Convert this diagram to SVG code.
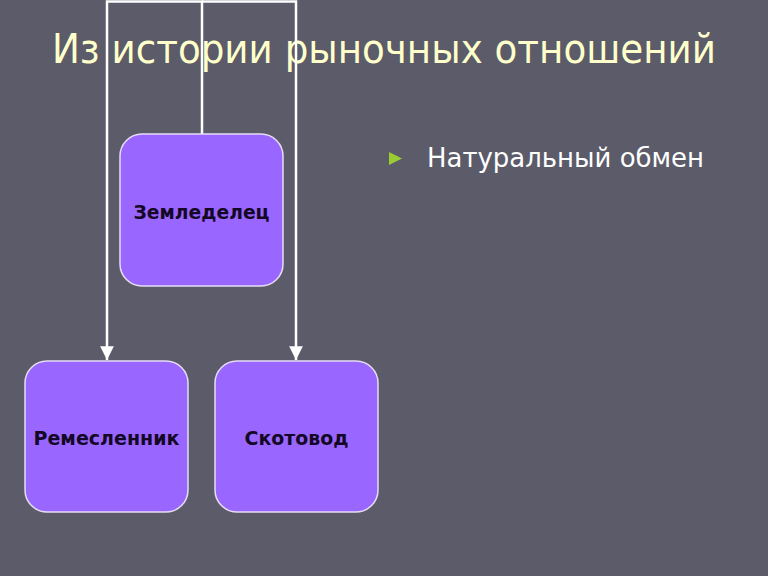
<svg xmlns="http://www.w3.org/2000/svg" width="768" height="576" viewBox="0 0 768 576">
<defs>
<style>
.node rect{fill:#9966FF;stroke:#E6DDF5;stroke-width:1.5}
.node text{font-family:"DejaVu Sans","Liberation Sans",sans-serif;font-weight:bold;font-size:20px;fill:#140826;text-anchor:middle}
.conn{fill:none;stroke:#FFFFFF;stroke-width:2.5}
</style>
<marker id="arr" viewBox="0 0 10 10" refX="10" refY="5" markerWidth="5.5" markerHeight="5.5" orient="auto" markerUnits="strokeWidth">
<path d="M0,0 L10,5 L0,10 z" fill="#FFFFFF"/>
</marker>
</defs>
<rect width="768" height="576" fill="#5B5B69"/>
<text x="52" y="63" font-family="DejaVu Sans,'Liberation Sans',sans-serif" font-size="40" fill="#FFFFCC" textLength="664" lengthAdjust="spacingAndGlyphs">Из истории рыночных отношений</text>
<g id="connectors">
<path class="conn" d="M202,134 V1.5 H107 V360" marker-end="url(#arr)"/>
<path class="conn" d="M202,1.5 H296 V360" marker-end="url(#arr)"/>
</g>
<g id="zemledelets" class="node">
<rect x="120" y="134" width="163" height="152" rx="22"/>
<text x="201.5" y="219" textLength="136" lengthAdjust="spacingAndGlyphs">Земледелец</text>
</g>
<g id="remeslennik" class="node">
<rect x="25" y="361" width="163" height="151" rx="22"/>
<text x="106.5" y="445" textLength="146" lengthAdjust="spacingAndGlyphs">Ремесленник</text>
</g>
<g id="skotovod" class="node">
<rect x="215" y="361" width="163" height="151" rx="22"/>
<text x="296.5" y="445" textLength="104" lengthAdjust="spacingAndGlyphs">Скотовод</text>
</g>
<polygon points="389,152 402,158.5 389,165" fill="#99CC33"/>
<text x="427" y="167" font-family="DejaVu Sans,'Liberation Sans',sans-serif" font-size="26" fill="#FFFFFF" textLength="277" lengthAdjust="spacingAndGlyphs">Натуральный обмен</text>
</svg>
